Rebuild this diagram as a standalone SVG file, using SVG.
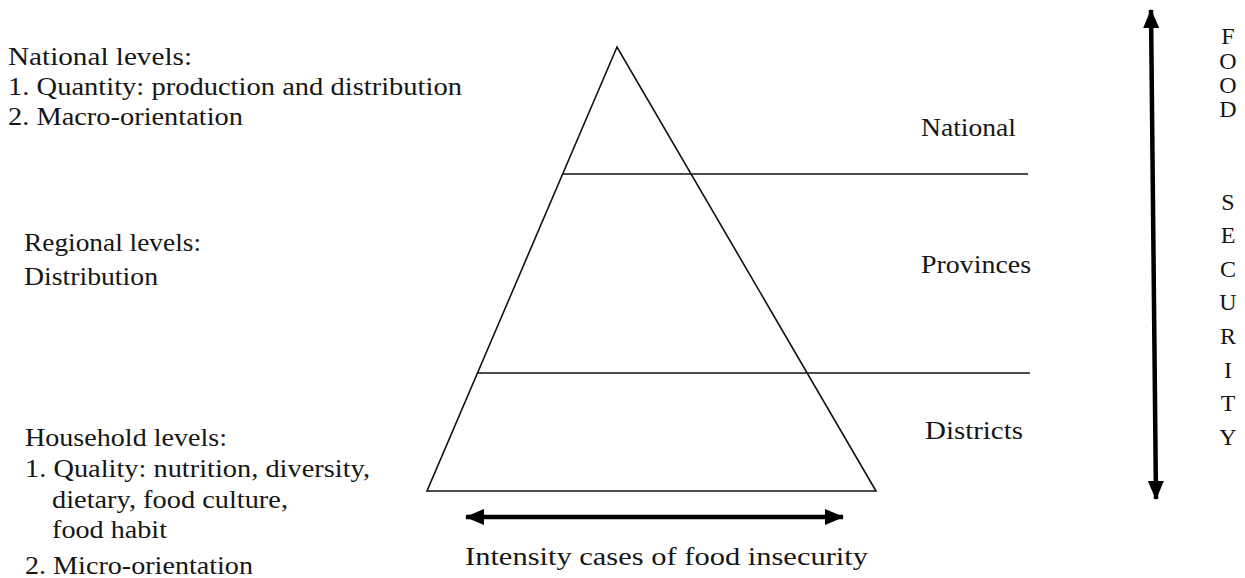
<svg xmlns="http://www.w3.org/2000/svg" width="1245" height="578" viewBox="0 0 1245 578">
<style>
text{font-family:'Liberation Serif','Times New Roman',serif;font-size:26px;fill:#161616}
.ln{stroke:#111;stroke-width:1.6;fill:none}
.ar{stroke:#000;stroke-width:4.5;fill:none}
.v{text-anchor:middle;font-size:24px}
</style>
<defs>
<marker id="ah" markerUnits="userSpaceOnUse" markerWidth="20" markerHeight="18" refX="18" refY="9" orient="auto-start-reverse" viewBox="0 0 20 18">
<path d="M0,1 L19,9 L0,17 Z" fill="#000"/>
</marker>
</defs>
<rect width="1245" height="578" fill="#fff"/>
<g id="pyramid">
<polygon class="ln" points="617,47 427,491 876,491"/>
</g>
<g id="connectors">
<line class="ln" x1="563" y1="174" x2="1028" y2="174"/>
<line class="ln" x1="478" y1="373" x2="1030" y2="373"/>
<line class="ar" x1="466" y1="517" x2="843" y2="517" marker-start="url(#ah)" marker-end="url(#ah)"/>
<line class="ar" x1="1151" y1="10" x2="1156" y2="499" marker-start="url(#ah)" marker-end="url(#ah)"/>
</g>
<g id="national-levels">
<text x="8" y="65" textLength="184" lengthAdjust="spacingAndGlyphs">National levels:</text>
<text x="8" y="95" textLength="454" lengthAdjust="spacingAndGlyphs">1. Quantity: production and distribution</text>
<text x="8" y="125" textLength="235" lengthAdjust="spacingAndGlyphs">2. Macro-orientation</text>
</g>
<g id="regional-levels">
<text x="24" y="251" textLength="177" lengthAdjust="spacingAndGlyphs">Regional levels:</text>
<text x="24" y="285" textLength="134" lengthAdjust="spacingAndGlyphs">Distribution</text>
</g>
<g id="household-levels">
<text x="25" y="446" textLength="202" lengthAdjust="spacingAndGlyphs">Household levels:</text>
<text x="25" y="477" textLength="345" lengthAdjust="spacingAndGlyphs">1. Quality: nutrition, diversity,</text>
<text x="52" y="508" textLength="236" lengthAdjust="spacingAndGlyphs">dietary, food culture,</text>
<text x="52" y="538" textLength="115" lengthAdjust="spacingAndGlyphs">food habit</text>
<text x="25" y="574" textLength="228" lengthAdjust="spacingAndGlyphs">2. Micro-orientation</text>
</g>
<g id="level-labels">
<text x="921" y="136" textLength="95" lengthAdjust="spacingAndGlyphs">National</text>
<text x="921" y="273" textLength="110" lengthAdjust="spacingAndGlyphs">Provinces</text>
<text x="925" y="439" textLength="98" lengthAdjust="spacingAndGlyphs">Districts</text>
</g>
<g id="intensity-label">
<text x="465" y="565" textLength="403" lengthAdjust="spacingAndGlyphs">Intensity cases of food insecurity</text>
</g>
<g id="food-security-label">
<text class="v" x="1228" y="44">F</text>
<text class="v" x="1228" y="69">O</text>
<text class="v" x="1228" y="93">O</text>
<text class="v" x="1228" y="117">D</text>
<text class="v" x="1228" y="210">S</text>
<text class="v" x="1228" y="243">E</text>
<text class="v" x="1228" y="277">C</text>
<text class="v" x="1228" y="310">U</text>
<text class="v" x="1228" y="344">R</text>
<text class="v" x="1228" y="378">I</text>
<text class="v" x="1228" y="411">T</text>
<text class="v" x="1228" y="445">Y</text>
</g>
</svg>
